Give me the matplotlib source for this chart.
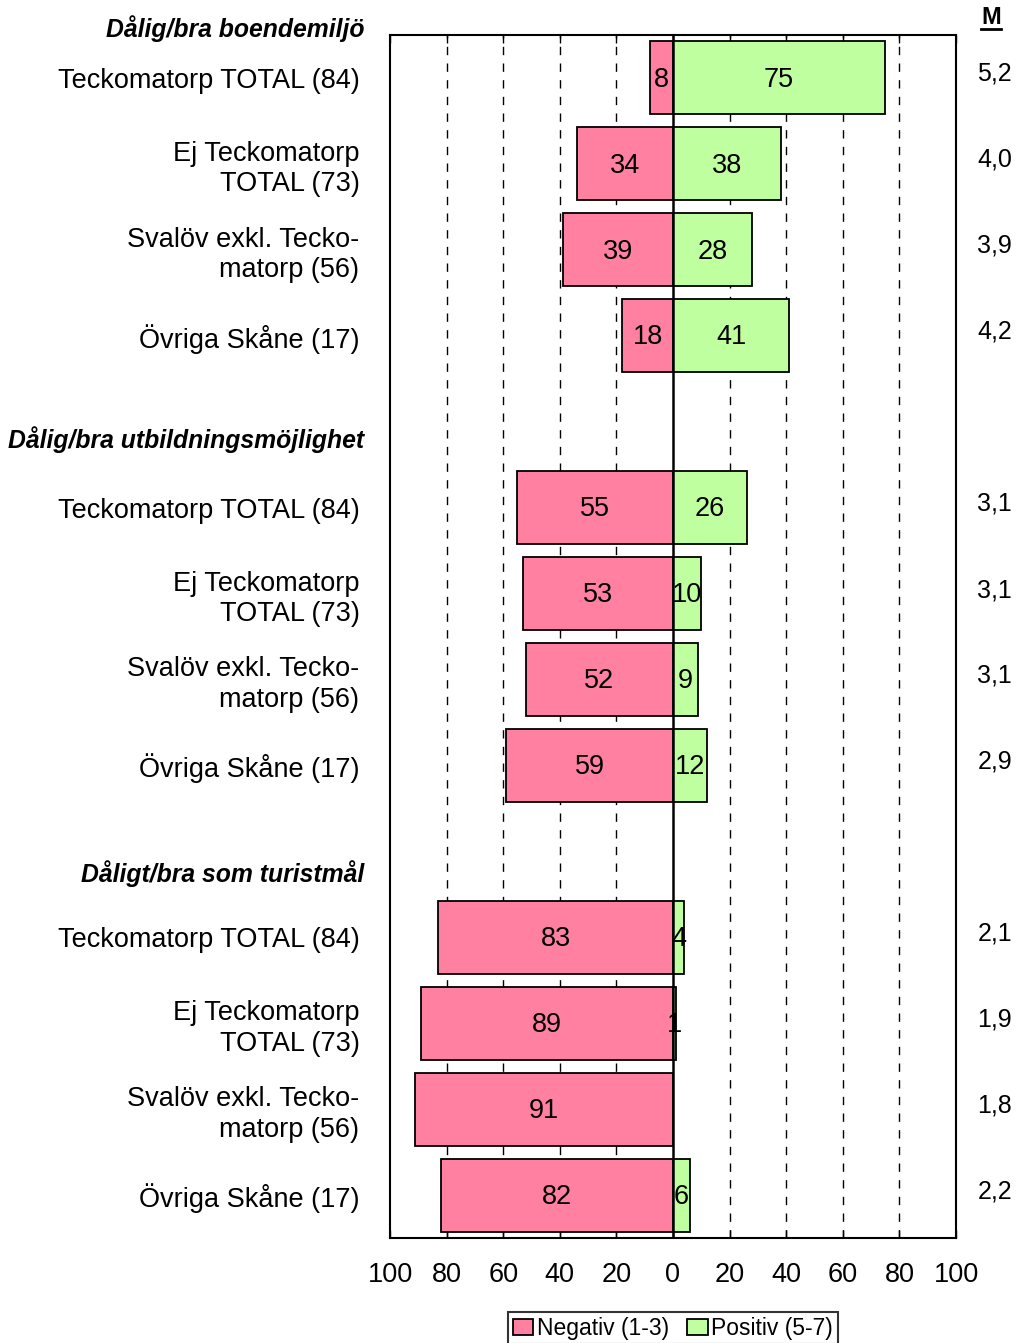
import matplotlib
matplotlib.use("Agg")
import matplotlib.pyplot as plt
from matplotlib.patches import Patch

plt.rcParams['font.family'] = ['Liberation Sans', 'DejaVu Sans']

groups = ["Dålig/bra boendemiljö", "Dålig/bra utbildningsmöjlighet", "Dåligt/bra som turistmål"]
categories = ["Teckomatorp TOTAL (84)", "Ej Teckomatorp\nTOTAL (73)",
              "Svalöv exkl. Tecko-\nmatorp (56)", "Övriga Skåne (17)"]
negative = [[8, 34, 39, 18], [55, 53, 52, 59], [83, 89, 91, 82]]
positive = [[75, 38, 28, 41], [26, 10, 9, 12], [4, 1, 0, 6]]
means = [["5,2", "4,0", "3,9", "4,2"], ["3,1", "3,1", "3,1", "2,9"], ["2,1", "1,9", "1,8", "2,2"]]
xticks = [-100, -80, -60, -40, -20, 0, 20, 40, 60, 80, 100]
xticklabels = ["100", "80", "60", "40", "20", "0", "20", "40", "60", "80", "100"]

PINK = "#FF80A0"
GREEN = "#BFFF9F"

fig = plt.figure(figsize=(10.2, 13.43), dpi=100)
ax = fig.add_axes([390/1020, 1-1238/1343, (956-390)/1020, (1238-35)/1343])

fs = 19.5
ypos, ylabels = [], []
header_y = [-0.58, 4.21, 9.26]
for g in range(3):
    for i in range(4):
        y = g * 5 + i
        n, p = negative[g][i], positive[g][i]
        ax.barh(y, -n, height=0.85, color=PINK, edgecolor="black", linewidth=1.3, zorder=3)
        if p > 0:
            ax.barh(y, p, height=0.85, color=GREEN, edgecolor="black", linewidth=1.3, zorder=3)
        ax.text(-n/2, y + 0.02, str(n), ha="center", va="center", fontsize=fs, zorder=5)
        if p > 0:
            ax.text(p/2, y + 0.02, str(p), ha="center", va="center", fontsize=fs, zorder=5)
        fig.text(1012/1020, 1 - (74 + 86*y)/1343, means[g][i], ha="right", va="center", fontsize=18)
        ypos.append(y)
        ylabels.append(categories[i])
    ax.text(-0.045, header_y[g], groups[g], transform=ax.get_yaxis_transform(),
            ha="right", va="center", fontsize=17.8, fontweight="bold", style="italic", clip_on=False)

fig.text(991/1020, 1 - 17/1343, "M", ha="center", va="center", fontsize=17, fontweight="bold")
fig.add_artist(plt.Line2D([981/1020, 1001/1020], [1-29/1343, 1-29/1343], color="black", lw=2))

ax.axvline(0, color="black", lw=1.8, zorder=4)
for gx in [-80, -60, -40, -20, 20, 40, 60, 80]:
    ax.axvline(gx, color="black", lw=1.0, ls=(0, (6, 6)), zorder=1)

ax.set_xlim(-100, 100)
ax.set_ylim(13.5, -0.5)
ax.set_xticks(xticks)
ax.set_xticklabels(xticklabels, fontsize=fs)
ax.tick_params(axis="x", direction="in", length=6, width=1, pad=17, top=True)
ax.set_yticks(ypos)
ax.set_yticklabels(ylabels, fontsize=fs, ha="right", linespacing=1.22)
ax.tick_params(axis="y", length=0, pad=22)
for lbl in ax.get_yticklabels():
    if "\n" in lbl.get_text():
        lbl.set_y(lbl.get_position()[1])
for s in ax.spines.values():
    s.set_linewidth(1.5)

handles = [Patch(facecolor=PINK, edgecolor="black", linewidth=1.3, label="Negativ (1-3)"),
           Patch(facecolor=GREEN, edgecolor="black", linewidth=1.3, label="Positiv (5-7)")]
leg = fig.legend(handles=handles, loc="upper center", bbox_to_anchor=(673/1020, 1 - 1312/1343),
                 ncol=2, fontsize=16.5, frameon=True, fancybox=False, edgecolor="black",
                 handlelength=0.9, handleheight=0.7, handletextpad=0.15, columnspacing=0.8,
                 borderpad=0.2, borderaxespad=0)
leg.get_frame().set_linewidth(1.5)

fig.savefig("out.png", dpi=100)
